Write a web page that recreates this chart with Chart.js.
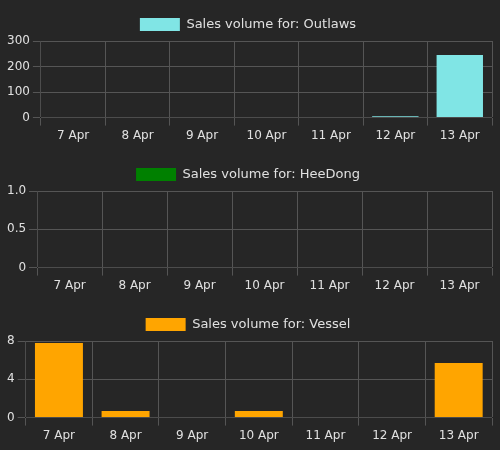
<!DOCTYPE html>
<html><head>
<script src="https://cdn.jsdelivr.net/npm/chart.js@4"></script>
<style>
html,body{margin:0;padding:0;background:#262626;}
.c{width:500px;height:150px;position:relative;}
</style></head>
<body>
<div class="c"><canvas id="c1"></canvas></div>
<div class="c"><canvas id="c2"></canvas></div>
<div class="c"><canvas id="c3"></canvas></div>
<script>
const categories = ["7 Apr","8 Apr","9 Apr","10 Apr","11 Apr","12 Apr","13 Apr"];
const outlaws = [0,0,0,0,0,5,245];
const heedong = [0,0,0,0,0,0,0];
const vessel = [7.8,0.7,0,0.7,0,0,5.7];
Chart.defaults.font.family = "DejaVu Sans";
Chart.defaults.color = "#e0e0e0";
function make(id, label, data, color, yopt){
  new Chart(document.getElementById(id), {
    type:'bar',
    data:{labels:categories, datasets:[{label:label, data:data, backgroundColor:color, borderColor:color}]},
    options:{
      responsive:true, maintainAspectRatio:false, animation:false,
      layout:{padding:{left:4,right:8,top:8,bottom:4}},
      plugins:{legend:{labels:{font:{size:13},boxWidth:40,color:'#e0e0e0'}}},
      scales:{
        x:{grid:{color:'#555',offset:true},ticks:{font:{size:12},color:'#e0e0e0'}},
        y:Object.assign({beginAtZero:true,grid:{color:'#555'},ticks:{font:{size:12},color:'#e0e0e0'}},yopt)
      }
    }
  });
}
make('c1','Sales volume for: Outlaws',outlaws,'#80e5e5',{max:300,ticks:{stepSize:100,font:{size:12},color:'#e0e0e0'}});
make('c2','Sales volume for: HeeDong',heedong,'#008000',{min:0,max:1,ticks:{stepSize:0.5,font:{size:12},color:'#e0e0e0',callback:v=>v===0?'0':v.toFixed(1)}});
make('c3','Sales volume for: Vessel',vessel,'#ffa500',{max:8,ticks:{stepSize:4,font:{size:12},color:'#e0e0e0'}});
</script>
</body></html>
